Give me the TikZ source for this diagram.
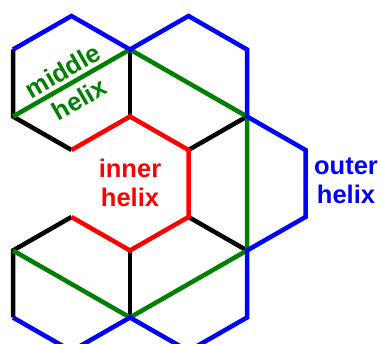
\documentclass[tikz,border=0pt]{standalone}
\usepackage{fontspec}
\setmainfont{Liberation Sans}
\usetikzlibrary{positioning}
\definecolor{outercolor}{RGB}{0,0,255}
\definecolor{middlecolor}{RGB}{0,128,0}
\definecolor{innercolor}{RGB}{255,0,0}

\begin{document}
\begin{tikzpicture}[
    x=1pt, y=-1pt,
    edge/.style={line width=4.5pt, line join=miter},
    helixtext/.style={font=\fontsize{25.5}{28.5}\selectfont\bfseries, align=center, inner sep=0pt}
]
\clip (0,0) rectangle (381,344);

% Lattice corners
\foreach \c/\x in {0/13,1/71.5,2/130,3/188.5,4/247,5/305.5}
  \foreach \r/\y in {0/16,1/49.5,2/116.5,3/150,4/217,5/250.5,6/317.5,7/351}
    \coordinate (v\c\r) at (\x,\y);

% Plain edges
\draw[edge, black] (v01) -- (v02) -- (v13);
\draw[edge, black] (v21) -- (v22);
\draw[edge, black] (v33) -- (v42);
\draw[edge, black] (v34) -- (v45);
\draw[edge, black] (v14) -- (v05) -- (v06);
\draw[edge, black] (v25) -- (v26);

% Middle helix
\draw[edge, middlecolor] (v02) -- (v21) -- (v42) -- (v45) -- (v26) -- (v05);

% Inner helix
\draw[edge, innercolor] (v13) -- (v22) -- (v33) -- (v34) -- (v25) -- (v14);

% Outer helix
\draw[edge, outercolor] (v01) -- (v10) -- (v21) -- (v30) -- (v41) -- (v42) -- (v53)
  -- (v54) -- (v45) -- (v46) -- (v37) -- (v26) -- (v17) -- (v06);

% Labels
\node[helixtext, font=\fontsize{25.5}{33}\selectfont\bfseries, text=middlecolor, rotate=30] (middle) at (71,85) {middle\\helix};
\node[helixtext, text=innercolor] (inner) at (130,183) {inner\\helix};
\node[helixtext, text=outercolor] (outer) at (346,181) {outer\\helix};

\end{tikzpicture}
\end{document}
